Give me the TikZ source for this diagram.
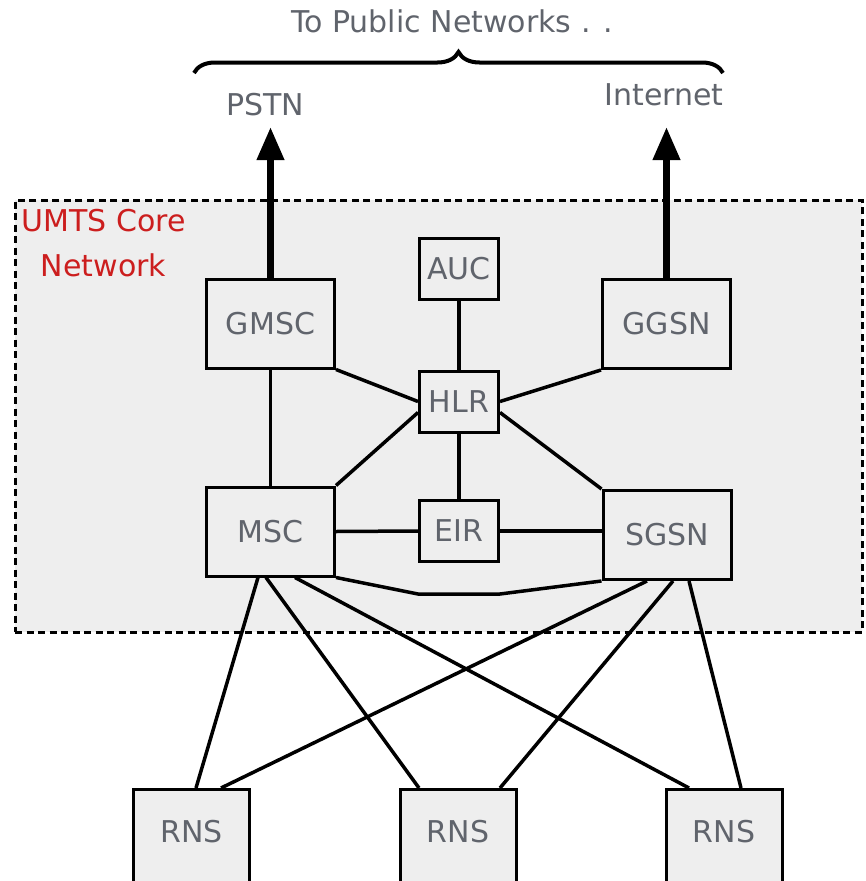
\documentclass[tikz,border=0pt]{standalone}
\usepackage{fontspec}
\setmainfont{DejaVu Sans}
\usetikzlibrary{positioning,arrows.meta,decorations.pathreplacing}
\definecolor{boxgray}{RGB}{238,238,238}
\definecolor{labelgray}{RGB}{96,100,108}
\definecolor{corered}{RGB}{204,30,30}
\tikzset{
  uplink/.style={-{Triangle[length=33pt,width=26pt]}, line width=7pt},
  link/.style={line width=3.5pt},
  netbox/.style={draw, line width=3pt, fill=boxgray, minimum width=128pt, minimum height=89pt},
  smallbox/.style={draw, line width=3pt, fill=boxgray, minimum width=79pt, minimum height=61pt},
  rnsbox/.style={draw, line width=3pt, fill=boxgray, minimum width=116pt, minimum height=110pt},
  corearea/.style={draw, dash pattern=on 7pt off 4.5pt, line width=3pt, fill=boxgray, minimum width=847pt, minimum height=432pt},
  netbrace/.style={decorate, decoration={brace, amplitude=21pt}, line width=4pt}
}

\begin{document}
\begin{tikzpicture}[x=1pt, y=-1pt, every node/.style={font=\fontsize{30}{36}\selectfont, text=labelgray}]
  \useasboundingbox (0,0) rectangle (865,881);
  \clip (0,0) rectangle (865,881);
  \node[corearea] (core) at (438.5,416) {};
  \node[text=corered, align=center, font=\fontsize{30}{45}\selectfont] (corelabel) at (103.5,243) {UMTS Core\\Network};
  \node (publicnets) at (452,21) {To Public Networks . .};
  \node (pstn) at (265,105) {PSTN};
  \node (internet) at (664,95) {Internet};
  \coordinate (braceleft) at (194,73);
  \coordinate (braceright) at (723,73);
  \coordinate (pstntip) at (270.5,127);
  \coordinate (internettip) at (666.5,127);
  \coordinate (bendleft) at (418,594);
  \coordinate (bendright) at (500,594);
  \node[netbox] (gmsc) at (270.5,323.5) {GMSC};
  \node[netbox] (ggsn) at (666.5,324) {GGSN};
  \node[smallbox] (auc) at (459,269) {AUC};
  \node[smallbox] (hlr) at (459,401.5) {HLR};
  \node[smallbox] (eir) at (459,531) {EIR};
  \node[netbox] (msc) at (270.5,531.5) {MSC};
  \node[netbox] (sgsn) at (667,535) {SGSN};
  \node[rnsbox, label={[yshift=12.5pt]center:RNS}] (rns1) at (191.5,844.5) {};
  \node[rnsbox, label={[yshift=12.5pt]center:RNS}] (rns2) at (458,844.5) {};
  \node[rnsbox, label={[yshift=12.5pt]center:RNS}] (rns3) at (724,844.5) {};
  \draw[netbrace] (braceleft) -- (braceright);
  \draw[uplink] (gmsc.north) -- (pstntip);
  \draw[uplink] (ggsn.north) -- (internettip);
  \draw[link] (gmsc) -- (msc);
  \draw[link] (auc) -- (hlr);
  \draw[link] (hlr) -- (eir);
  \draw[link] (gmsc.south east) -- (hlr.west);
  \draw[link] (ggsn.south west) -- (hlr.east);
  \draw[link] (msc.north east) -- (hlr.195);
  \draw[link] (sgsn.north west) -- (hlr.-15);
  \draw[link] (msc.east) -- (eir.west);
  \draw[link] (eir.east) -- (eir.east -| sgsn.west);
  \draw[link] (msc.south east) -- (bendleft) -- (bendright) -- (sgsn.south west);
  \draw[link] ([xshift=-12.5pt]msc.south) -- ([xshift=4.5pt]rns1.north);
  \draw[link] ([xshift=-4.5pt]msc.south) -- ([xshift=-39pt]rns2.north);
  \draw[link] ([xshift=24.5pt]msc.south) -- ([xshift=-35pt]rns3.north);
  \draw[link] ([xshift=-20pt]sgsn.south) -- ([xshift=29.5pt]rns1.north);
  \draw[link] ([xshift=6pt]sgsn.south) -- ([xshift=42pt]rns2.north);
  \draw[link] ([xshift=22pt]sgsn.south) -- ([xshift=17pt]rns3.north);
\end{tikzpicture}
\end{document}
